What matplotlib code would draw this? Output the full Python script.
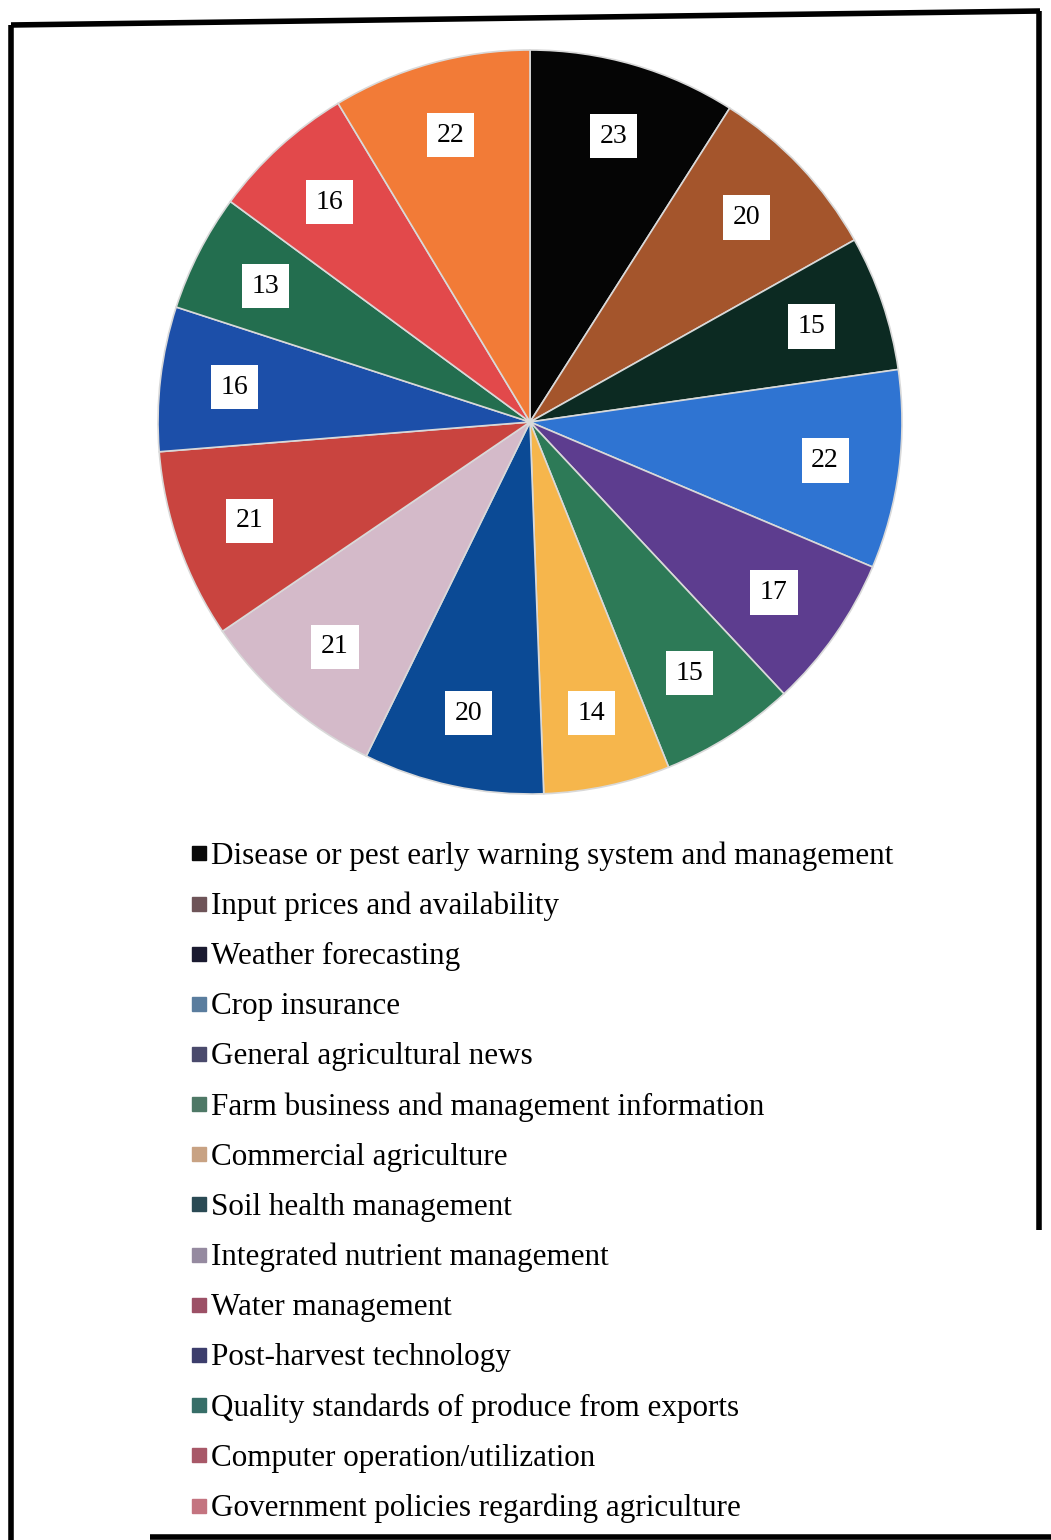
import numpy as np
import matplotlib
matplotlib.use("Agg")
import matplotlib.pyplot as plt
from matplotlib.lines import Line2D

# data, clockwise from 12 o'clock
topics = [
    "Disease or pest early warning system and management",
    "Input prices and availability",
    "Weather forecasting",
    "Crop insurance",
    "General agricultural news",
    "Farm business and management information",
    "Commercial agriculture",
    "Soil health management",
    "Integrated nutrient management",
    "Water management",
    "Post-harvest technology",
    "Quality standards of produce from exports",
    "Computer operation/utilization",
    "Government policies regarding agriculture",
]
counts = [23, 20, 15, 22, 17, 15, 14, 20, 21, 21, 16, 13, 16, 22]

slice_colors = ["#050505", "#a4552c", "#0c2a22", "#2f74d2", "#5d3d8f",
                "#2d7a57", "#f6b64c", "#0b4a95", "#d4bac9", "#c9443f",
                "#1c4fa9", "#236e4f", "#e2494b", "#f27b37"]
legend_colors = ["#0a0a0a", "#6e5458", "#1a1a30", "#5a7d9e", "#4a4a6c",
                 "#4e7866", "#c8a283", "#2a4a54", "#958aa0", "#9c5066",
                 "#3c3e6c", "#376e68", "#a85868", "#c47480"]

plt.rcParams['font.family'] = ['Liberation Serif', 'DejaVu Serif']

W, H = 1051, 1540
fig = plt.figure(figsize=(W / 100, H / 100), dpi=100, facecolor='white')

# pie: centre ~(530, 422) px, radius ~372 px
cx, cy, r = 530, 422, 372
ax = fig.add_axes([(cx - r) / W, (H - cy - r) / H, 2 * r / W, 2 * r / H])
wedges, texts, autotexts = ax.pie(
    counts, colors=slice_colors, startangle=90, counterclock=False,
    autopct=lambda p: f"{p * sum(counts) / 100:.0f}", pctdistance=0.8,
    wedgeprops=dict(edgecolor='#d9d9d9', linewidth=1.2),
    textprops=dict(fontsize=20, color='black'))
for t in autotexts:
    t.set_bbox(dict(boxstyle='square,pad=0.35', facecolor='white', edgecolor='none'))
ax.set_xlim(-1, 1)
ax.set_ylim(-1, 1)
ax.set_aspect('equal')
ax.axis('off')

# legend
handles = [Line2D([], [], marker='s', linestyle='none', markersize=10,
                  markerfacecolor=c, markeredgecolor=c) for c in legend_colors]
fig.legend(handles, topics, loc='upper left',
           bbox_to_anchor=(180 / W, 1 - 829 / H), frameon=False,
           fontsize=22.4, handlelength=0.45, handletextpad=0.15,
           labelspacing=0.675, borderaxespad=0)

# frame around the figure (scanned page border)
frame = dict(color='black', linewidth=4, transform=fig.transFigure, solid_capstyle='butt')
fig.add_artist(Line2D([11 / W, 1040 / W], [1 - 25 / H, 1 - 11 / H], **frame))
fig.add_artist(Line2D([11 / W, 11 / W], [1 - 25 / H, 0], **frame))
fig.add_artist(Line2D([1039 / W, 1039 / W], [1 - 11 / H, 1 - 1230 / H], **frame))
fig.add_artist(Line2D([150 / W, 1], [1 - 1537 / H, 1 - 1537 / H], **frame))

fig.savefig("out.png", dpi=100, facecolor='white')
